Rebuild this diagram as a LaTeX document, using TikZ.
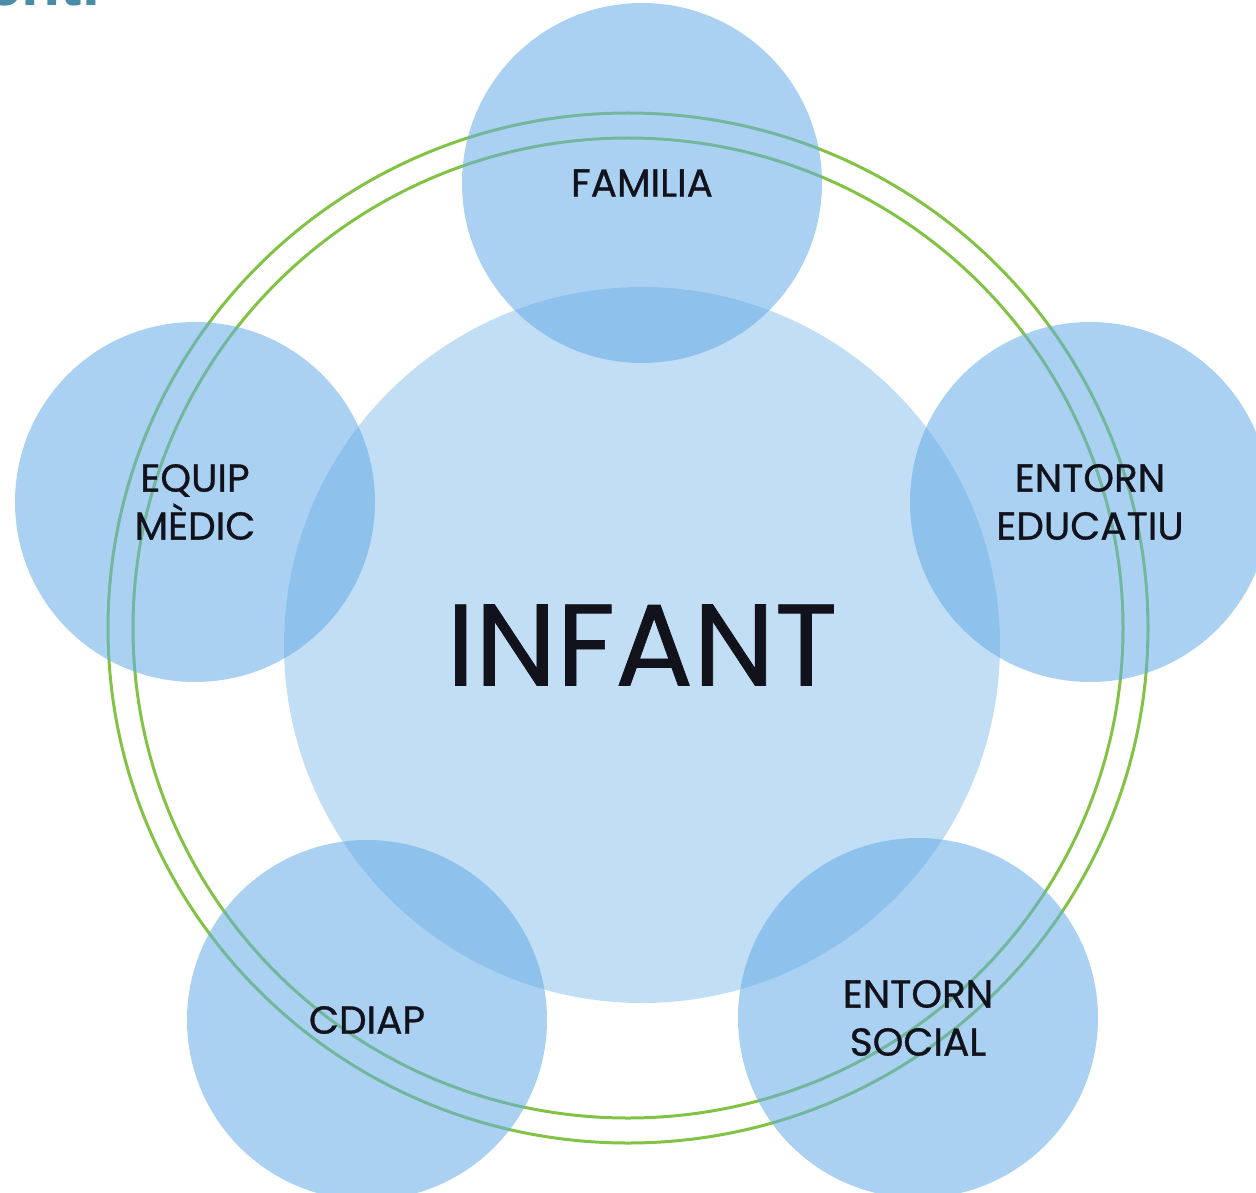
\documentclass[tikz,border=0pt]{standalone}
\usepackage{fontspec}
\setmainfont{Poppins}[FakeBold=0.6]
\newfontfamily\labelfont{Poppins}[FakeBold=0.8]
\newfontfamily\titlefont{Liberation Sans}
\definecolor{bubble}{RGB}{100,172,230}
\definecolor{ringgreen}{RGB}{130,195,70}
\definecolor{titleteal}{RGB}{74,139,168}
\definecolor{ink}{RGB}{18,18,28}
\tikzset{
  bub/.style={circle, fill=bubble, fill opacity=0.55, text opacity=1, draw=none,
              minimum size=360pt, inner sep=0pt, align=center, text=ink,
              font=\labelfont\fontsize{39}{48}\selectfont},
  core/.style={circle, fill=bubble, fill opacity=0.40, text opacity=1, draw=none,
              minimum size=716pt, inner sep=0pt, text=ink,
              font=\fontsize{116}{120}\selectfont},
  ringline/.style={draw=ringgreen, line width=3pt}
}
\begin{document}
\begin{tikzpicture}[x=1pt,y=-1pt]
\useasboundingbox (0,0) rectangle (1256,1193);
\clip (0,0) rectangle (1256,1193);
% cut-off title fragment (the reference shows only its lower edge)
\node[anchor=base west, inner sep=0pt, text=titleteal, font=\titlefont\bfseries\fontsize{64}{64}\selectfont] (title) at (-14,6) {ent.};
% green rings
\draw[ringline] (628,628) ellipse [x radius=520pt, y radius=515pt];
\draw[ringline] (628,628) ellipse [x radius=495pt, y radius=490pt];
% central circle
\node[core] (infant) at (642,645) {INFANT};
% satellites
\node[bub] (familia) at (642,183) {FAMILIA};
\node[bub] (equip) at (195,502) {EQUIP\\MÈDIC};
\node[bub] (educatiu) at (1090,502) {ENTORN\\EDUCATIU};
\node[bub] (cdiap) at (367,1020) {CDIAP};
\node[bub] (social) at (918,1018) {ENTORN\\SOCIAL};
\end{tikzpicture}
\end{document}
